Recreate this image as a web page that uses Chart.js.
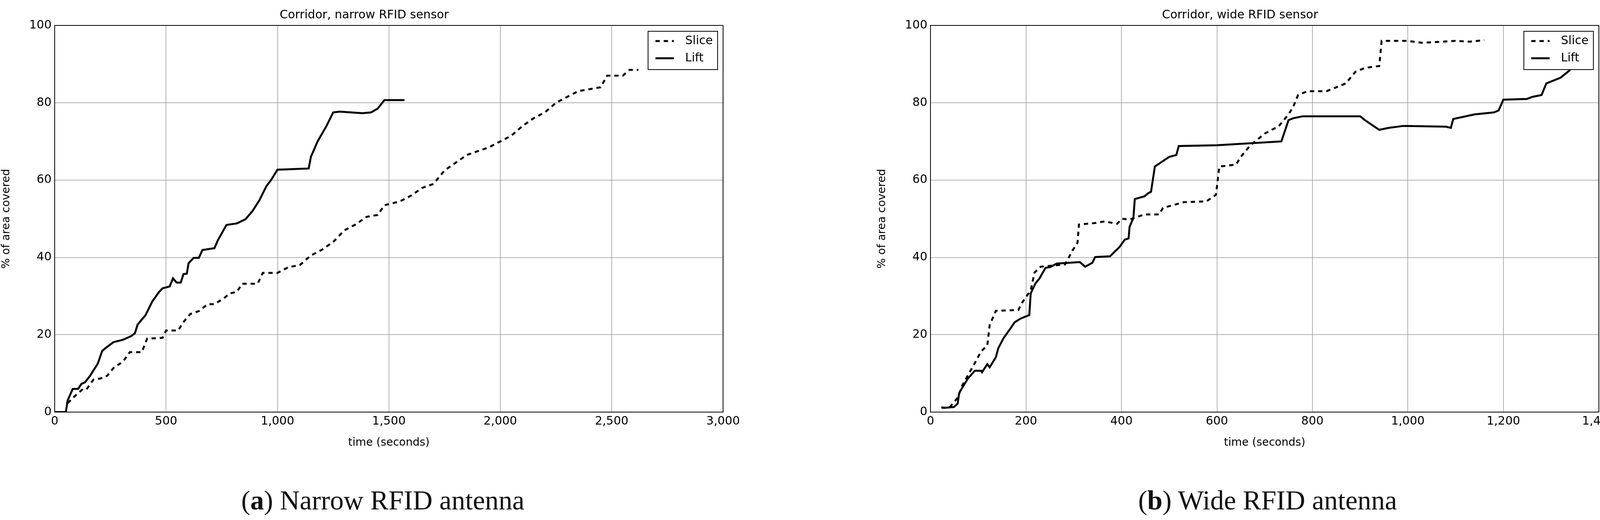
<!DOCTYPE html>
<html><head><meta charset="utf-8">
<script src="https://cdn.jsdelivr.net/npm/chart.js@4"></script>
<style>
body{margin:0;background:#fff;width:4160px;height:1330px;position:relative;overflow:hidden}
.c{position:absolute;top:0;width:1900px;height:1150px}
.cap{position:absolute;top:1240px;font-family:"Liberation Serif","DejaVu Serif",serif;font-size:70px;color:#111;transform:translateX(-50%);white-space:nowrap}
</style></head><body>
<div class="c" style="left:0"><canvas id="a"></canvas></div>
<div class="c" style="left:2242px"><canvas id="b"></canvas></div>
<div class="cap" style="left:980px">(<b>a</b>) Narrow RFID antenna</div>
<div class="cap" style="left:3245px">(<b>b</b>) Wide RFID antenna</div>
<script>
const seriesNames=["Slice","Lift"];
const titleA="Corridor, narrow RFID sensor";
const titleB="Corridor, wide RFID sensor";
const xTitle="time (seconds)";
const yTitle="% of area covered";

const aLiftX=[0,26,50,58,81,105,120,136,159,194,213,225,264,306,345,360,372,392,407,438,469,484,516,531,547,566,578,593,601,624,647,663,717,733,771,818,857,888,919,950,971,1000,1050,1140,1150,1180,1220,1250,1280,1330,1380,1420,1450,1480,1570];
const aLiftY=[0,0,0,3,6,6,7.3,7.7,9.4,12.6,15.8,16.4,18.1,18.7,19.7,20.4,22.6,24,25,28.6,31.1,32,32.5,34.6,33.5,33.5,35.7,35.8,38.5,39.9,39.9,41.9,42.4,44.5,48.4,48.8,49.9,52,54.8,58.4,60,62.7,62.8,63,66,70,74,77.5,77.7,77.5,77.3,77.5,78.5,80.7,80.7];
const aSliceX=[58,97,128,143,174,205,236,267,306,337,391,415,484,500,554,578,609,647,686,717,756,787,818,841,911,934,971,1000,1050,1100,1150,1200,1250,1300,1350,1400,1450,1480,1550,1600,1650,1700,1750,1800,1850,1900,1950,2000,2050,2100,2150,2200,2250,2300,2350,2400,2450,2480,2550,2580,2620];
const aSliceY=[2.3,4.5,6,5.9,8.4,8.7,9.4,11.6,13,15.5,15.5,19,19.2,21.1,21.1,23.3,25.4,26.1,27.9,27.9,29.3,30.7,31.1,33.2,33.2,36,36,36,37.5,38,40.5,42,44,47,48.5,50.5,51,53.5,54.5,56,58,59,62.5,64.5,66.5,67.5,68.5,70,71.5,74,76,77.5,80,81.5,83,83.5,84,87,87,88.5,88.5];

const bLiftX=[23,28,49,57,60,67,78,93,106,108,119,124,137,142,153,168,176,189,207,210,220,228,241,251,264,313,324,339,345,376,396,407,415,417,425,428,448,456,462,470,500,515,520,600,735,750,760,780,900,910,940,960,990,1000,1080,1090,1095,1140,1180,1190,1200,1250,1260,1280,1290,1320,1340];
const bLiftY=[1.3,1.1,1.3,2.2,4.9,6.4,8.6,10.7,10.7,10.3,12.4,11.6,14.2,16.5,19.1,21.7,23.2,24.2,25.1,30.7,33.3,34.5,37.3,37.5,38.4,38.8,37.6,38.6,40.1,40.3,42.7,44.6,44.9,47.9,50.2,55.1,55.8,56.6,57,63.5,66,66.5,68.8,69,70,75.5,76,76.5,76.5,75.5,73,73.5,74,74,73.8,73.5,75.8,77,77.5,78,80.8,81,81.5,82,85,86.5,88.5];
const bSliceX=[23,40,57,67,93,106,119,124,137,184,192,210,218,231,282,298,308,311,345,365,391,401,417,448,479,487,531,578,598,605,640,650,670,700,730,750,760,770,790,830,870,890,910,940,945,1000,1030,1100,1130,1160];
const bSliceY=[1.1,1.2,3.7,7,12.7,15.7,17.2,22.5,26.2,26.4,28.3,31.5,36.1,37.6,38.2,41.9,43.8,48.5,48.9,49.3,48.7,50,49.8,51.1,51.1,52.8,54.3,54.5,56.2,63.5,64,66,69,72,74,77,79,82,83,83,85,88,89,89.5,96,96,95.5,96,95.8,96.2];

const FONT="'DejaVu Sans', sans-serif";
const pts=(xs,ys)=>xs.map((x,i)=>({x,y:ys[i]}));
const legendPlugin={id:'boxLegend',afterDraw(ch){
  const c=ch.ctx,a=ch.chartArea;const w=178,h=98,r=a.right-14,l=r-w,t=a.top+15;
  c.save();c.fillStyle='#fff';c.fillRect(l,t,w,h);c.strokeStyle='#000';c.lineWidth=2;c.strokeRect(l,t,w,h);
  ch.data.datasets.forEach((d,i)=>{const y=t+25+i*44;c.beginPath();c.setLineDash(d.borderDash||[]);c.lineWidth=d.borderWidth;c.strokeStyle='#000';
    c.moveTo(l+19,y);c.lineTo(l+66,y);c.stroke();c.setLineDash([]);c.fillStyle='#000';c.font="30px "+FONT;c.textBaseline='middle';c.fillText(d.label,l+95,y);});
  c.restore();}};
function make(id,title,xmax,xstep,sx,sy,lx,ly){
  new Chart(document.getElementById(id),{type:'scatter',
    data:{datasets:[
      {label:seriesNames[0],data:pts(sx,sy),showLine:true,borderColor:'#000',borderWidth:5,borderDash:[11,10],pointRadius:0,tension:0},
      {label:seriesNames[1],data:pts(lx,ly),showLine:true,borderColor:'#000',borderWidth:5,pointRadius:0,tension:0}]},
    options:{responsive:true,maintainAspectRatio:false,animation:false,devicePixelRatio:1,
      layout:{padding:{left:0,right:35,top:0,bottom:0}},
      plugins:{legend:{display:false},tooltip:{enabled:false},
        title:{display:true,text:title,color:'#000',font:{family:FONT,size:30,weight:'normal'},padding:{top:21,bottom:8}}},
      scales:{
        x:{type:'linear',min:0,max:xmax,ticks:{stepSize:xstep,color:'#000',font:{family:FONT,size:30},padding:6,maxRotation:0},
          grid:{color:'#999',lineWidth:1.5,borderDash:[2,5],drawTicks:false},border:{color:'#000',width:2},
          title:{display:true,text:xTitle,color:'#000',font:{family:FONT,size:28},padding:0},
          afterFit(s){s.height=96;}},
        y:{min:0,max:100,ticks:{stepSize:20,color:'#000',font:{family:FONT,size:30},padding:8},
          grid:{color:'#999',lineWidth:1.5,borderDash:[2,5],drawTicks:false},border:{color:'#000',width:2},
          title:{display:true,text:yTitle,color:'#000',font:{family:FONT,size:28},padding:{top:0,bottom:12}},
          afterFit(s){s.width=140;}}}},
    plugins:[legendPlugin,{id:'frame',afterDraw(ch){const c=ch.ctx,a=ch.chartArea;c.save();c.strokeStyle='#000';c.lineWidth=2;c.strokeRect(a.left,a.top,a.right-a.left,a.bottom-a.top);c.restore();}}]});
}
make('a',titleA,3000,500,aSliceX,aSliceY,aLiftX,aLiftY);
make('b',titleB,1400,200,bSliceX,bSliceY,bLiftX,bLiftY);
</script></body></html>
